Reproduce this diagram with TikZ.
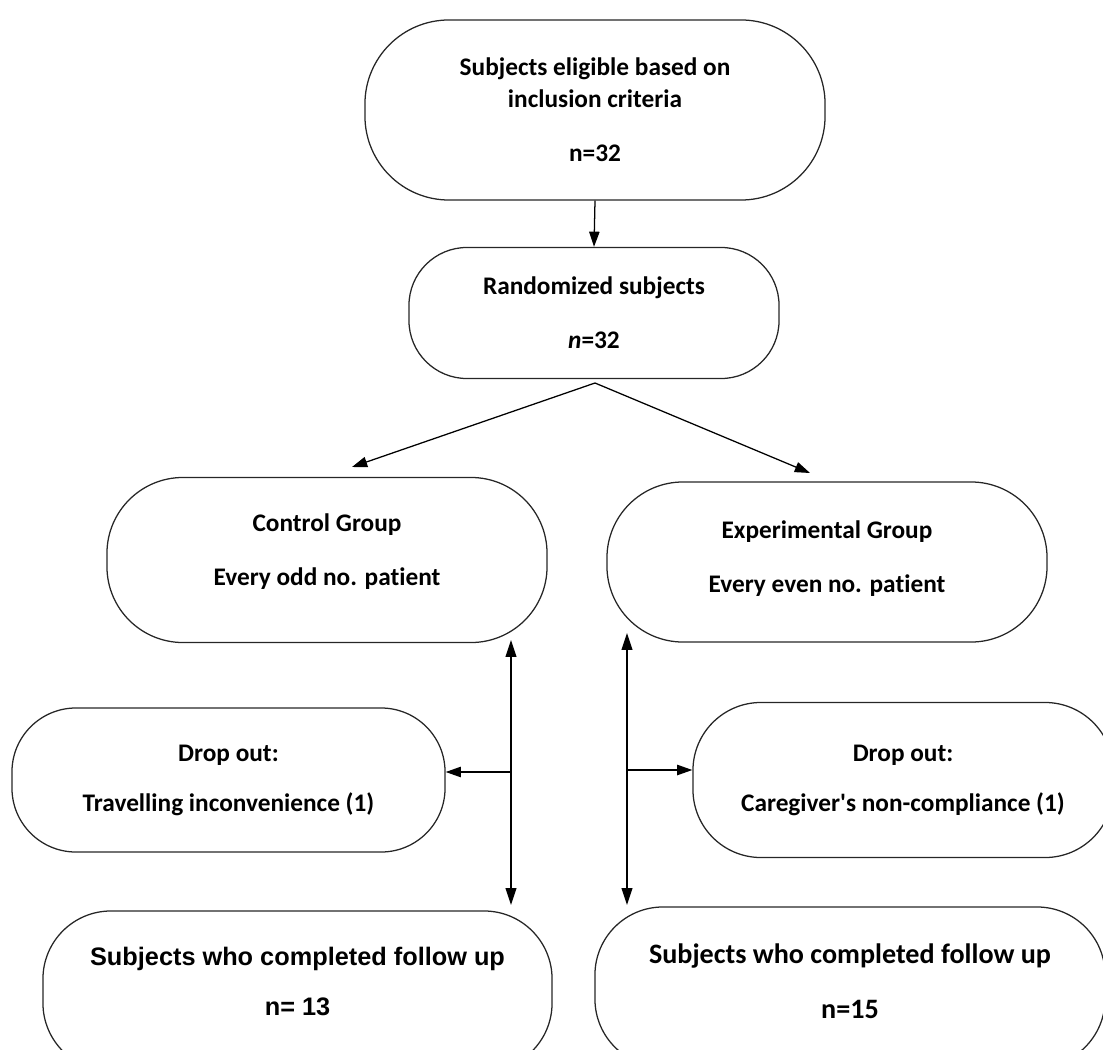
\documentclass[tikz,border=0pt]{standalone}
\usepackage{fontspec}
\setmainfont{Carlito}[Ligatures=NoCommon]
\newfontfamily\arialfont{Liberation Sans}
\usetikzlibrary{arrows.meta}

\begin{document}
\begin{tikzpicture}[
  x=0.025cm, y=-0.025cm,
  font=\fontsize{18pt}{22.8pt}\selectfont\bfseries,
  box/.style={rectangle, draw=black!85, line width=0.9pt, align=center,
              inner sep=0pt},
  arr/.style={line width=0.9pt, -{Triangle[length=0.38cm, width=0.26cm]}},
  twoway/.style={line width=0.9pt,
                 {Triangle[length=0.42cm, width=0.27cm]}-{Triangle[length=0.42cm, width=0.27cm]}}]

  \useasboundingbox (0,0) rectangle (1103,1050);
  \clip (0,0) rectangle (1103,1050);

  % ---- enrolment --------------------------------------------------------
  \node[box, minimum width=11.5cm, minimum height=4.5cm, rounded corners=2.1cm]
    (elig) at (595,110)
    {Subjects eligible based on\\inclusion criteria\\[0.55cm]n=32};
  \node[box, minimum width=9.25cm, minimum height=3.275cm, rounded corners=1.45cm]
    (rand) at (594,313)
    {Randomized subjects\\[0.55cm]\textit{n}=32};
  \draw[arr] (elig.south) -- (rand.north);

  % ---- allocation -------------------------------------------------------
  \node[box, minimum width=11cm, minimum height=4.125cm, rounded corners=1.9cm]
    (ctrl) at (327,560)
    {Control Group\\[0.55cm]Every odd no. patient\\[-0.3cm]};
  \node[box, minimum width=11cm, minimum height=4cm, rounded corners=1.9cm]
    (expt) at (827,562)
    {Experimental Group\\[0.55cm]Every even no. patient\\[-0.55cm]};

  \coordinate (fork) at (595,383);
  \coordinate (ctrltip) at (352,467);
  \coordinate (expttip) at (810,473);
  \draw[arr] (fork) -- (ctrltip);
  \draw[arr] (fork) -- (expttip);

  % ---- drop outs --------------------------------------------------------
  \node[box, minimum width=10.825cm, minimum height=3.6cm, rounded corners=1.6cm]
    (dropL) at (228.5,780)
    {Drop out:\\[0.45cm]Travelling inconvenience (1)};
  \node[box, minimum width=10.5cm, minimum height=3.875cm, rounded corners=1.7cm]
    (dropR) at (903,780)
    {Drop out:\\[0.45cm]Caregiver\textquotesingle s non-compliance (1)};

  % ---- follow up --------------------------------------------------------
  \node[box, minimum width=12.725cm, minimum height=4cm, rounded corners=1.7cm,
        font=\arialfont\fontsize{18pt}{22.8pt}\selectfont\bfseries]
    (compL) at (297.5,991)
    {Subjects who completed follow up\\[0.45cm]n= 13\\[-0.3cm]};
  \node[box, minimum width=12.75cm, minimum height=4cm, rounded corners=1.7cm,
        font=\fontsize{20pt}{24pt}\selectfont\bfseries]
    (compR) at (850,987)
    {Subjects who completed follow up\\[0.55cm]n=15\\[-0.55cm]};

  % ---- connectors -------------------------------------------------------
  \coordinate (lt) at (511,640);
  \coordinate (lj) at (511,772);
  \coordinate (lb) at (511,905);
  \coordinate (rt) at (627,633);
  \coordinate (rj) at (627,770);
  \coordinate (rb) at (627,905);
  \draw[twoway] (lt) -- (lb);
  \draw[twoway] (rt) -- (rb);
  \draw[arr] (lj) -- (lj -| dropL.east);
  \draw[arr] (rj) -- (rj -| dropR.west);
\end{tikzpicture}
\end{document}
